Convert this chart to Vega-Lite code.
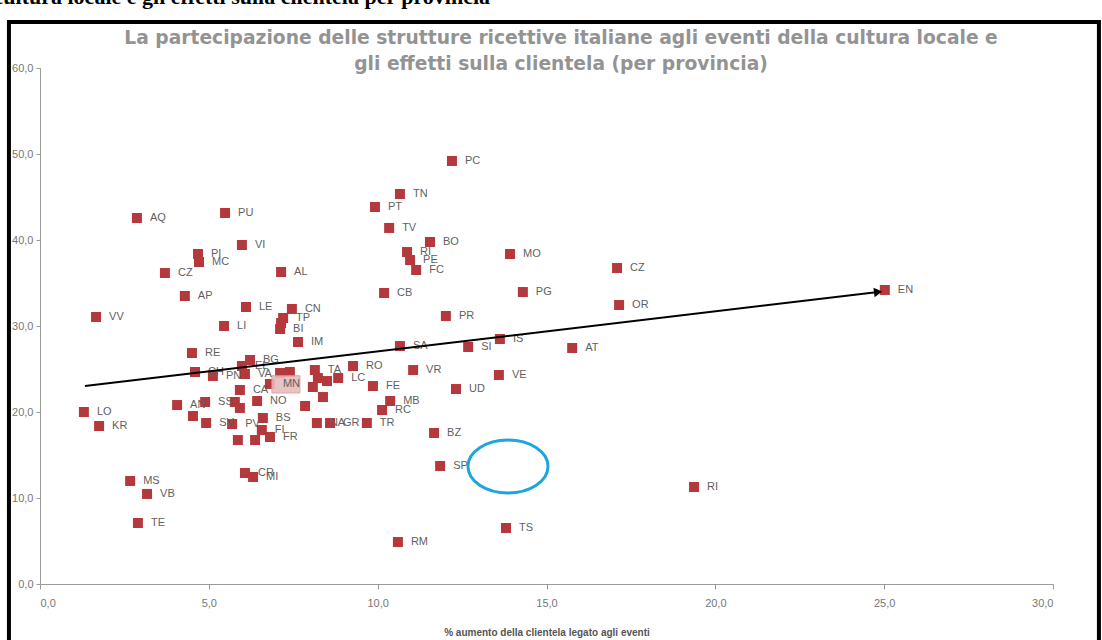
{
  "$schema": "https://vega.github.io/schema/vega-lite/v6.json",
  "width": 1013,
  "height": 516,
  "autosize": "none",
  "padding": {"left": 40, "top": 68, "right": 49, "bottom": 56},
  "background": "white",
  "config": {"view": {"stroke": null}, "font": "Liberation Sans"},
  "datasets": {
    "province": [
      {"p": "PC", "x": 12.20, "y": 49.19}, {"p": "TN", "x": 10.66, "y": 45.35}, {"p": "PT", "x": 9.92, "y": 43.84},
      {"p": "AQ", "x": 2.87, "y": 42.56}, {"p": "PU", "x": 5.48, "y": 43.14}, {"p": "TV", "x": 10.34, "y": 41.40},
      {"p": "VI", "x": 5.98, "y": 39.42}, {"p": "BO", "x": 11.55, "y": 39.77}, {"p": "RI", "x": 10.87, "y": 38.60},
      {"p": "PE", "x": 10.96, "y": 37.67}, {"p": "FC", "x": 11.14, "y": 36.51}, {"p": "MO", "x": 13.92, "y": 38.37},
      {"p": "PI", "x": 4.68, "y": 38.37}, {"p": "MC", "x": 4.71, "y": 37.44}, {"p": "CZ", "x": 3.70, "y": 36.16},
      {"p": "AL", "x": 7.14, "y": 36.28}, {"p": "CZ", "x": 17.09, "y": 36.74}, {"p": "CB", "x": 10.19, "y": 33.84},
      {"p": "PG", "x": 14.30, "y": 33.95}, {"p": "AP", "x": 4.29, "y": 33.49}, {"p": "OR", "x": 17.15, "y": 32.44},
      {"p": "EN", "x": 25.02, "y": 34.19}, {"p": "LE", "x": 6.10, "y": 32.21}, {"p": "CN", "x": 7.46, "y": 31.98},
      {"p": "VV", "x": 1.66, "y": 31.05}, {"p": "PR", "x": 12.02, "y": 31.16}, {"p": "LI", "x": 5.45, "y": 30.00},
      {"p": "TP", "x": 7.20, "y": 30.93}, {"p": "", "x": 7.14, "y": 30.35}, {"p": "BI", "x": 7.11, "y": 29.65},
      {"p": "IS", "x": 13.62, "y": 28.49}, {"p": "IM", "x": 7.64, "y": 28.14}, {"p": "SA", "x": 10.66, "y": 27.67},
      {"p": "SI", "x": 12.68, "y": 27.56}, {"p": "AT", "x": 15.76, "y": 27.44}, {"p": "RE", "x": 4.50, "y": 26.86},
      {"p": "BG", "x": 6.22, "y": 26.05}, {"p": "EL", "x": 5.98, "y": 25.35}, {"p": "TA", "x": 8.14, "y": 24.88},
      {"p": "RO", "x": 9.27, "y": 25.35}, {"p": "VR", "x": 11.05, "y": 24.88}, {"p": "VE", "x": 13.59, "y": 24.30},
      {"p": "CH", "x": 4.59, "y": 24.65}, {"p": "PN", "x": 5.12, "y": 24.19}, {"p": "VA", "x": 6.07, "y": 24.42},
      {"p": "MN", "x": 6.81, "y": 23.26}, {"p": "CA", "x": 5.92, "y": 22.56}, {"p": "", "x": 7.11, "y": 24.53},
      {"p": "", "x": 7.40, "y": 24.65}, {"p": "", "x": 8.23, "y": 23.95}, {"p": "", "x": 8.50, "y": 23.60},
      {"p": "LC", "x": 8.83, "y": 23.95}, {"p": "", "x": 8.08, "y": 22.91}, {"p": "", "x": 8.38, "y": 21.74},
      {"p": "FE", "x": 9.86, "y": 23.02}, {"p": "UD", "x": 12.32, "y": 22.67}, {"p": "NO", "x": 6.43, "y": 21.28},
      {"p": "", "x": 7.85, "y": 20.70}, {"p": "MB", "x": 10.37, "y": 21.28}, {"p": "RC", "x": 10.13, "y": 20.23},
      {"p": "TR", "x": 9.68, "y": 18.72}, {"p": "GR", "x": 8.59, "y": 18.72}, {"p": "NA", "x": 8.20, "y": 18.72},
      {"p": "AN", "x": 4.06, "y": 20.81}, {"p": "SS", "x": 4.89, "y": 21.16}, {"p": "", "x": 4.53, "y": 19.53},
      {"p": "SV", "x": 4.92, "y": 18.72}, {"p": "", "x": 5.77, "y": 21.16}, {"p": "", "x": 5.92, "y": 20.47},
      {"p": "PV", "x": 5.69, "y": 18.60}, {"p": "BS", "x": 6.60, "y": 19.30}, {"p": "FI", "x": 6.57, "y": 17.91},
      {"p": "", "x": 6.37, "y": 16.74}, {"p": "", "x": 5.86, "y": 16.74}, {"p": "FR", "x": 6.81, "y": 17.09},
      {"p": "CR", "x": 6.07, "y": 12.91}, {"p": "MI", "x": 6.31, "y": 12.44}, {"p": "BZ", "x": 11.67, "y": 17.56},
      {"p": "SP", "x": 11.85, "y": 13.72}, {"p": "RM", "x": 10.60, "y": 4.88}, {"p": "TS", "x": 13.80, "y": 6.51},
      {"p": "RI", "x": 19.37, "y": 11.28}, {"p": "LO", "x": 1.30, "y": 20.00}, {"p": "KR", "x": 1.75, "y": 18.37},
      {"p": "MS", "x": 2.67, "y": 11.98}, {"p": "VB", "x": 3.17, "y": 10.47}, {"p": "TE", "x": 2.90, "y": 7.09}
    ],
    "tendenza": [{"x": 1.33, "y": 23.02}, {"x": 24.82, "y": 33.95}]
  },
  "layer": [
    {
      "data": {"values": [{}]},
      "mark": {"type": "rect", "filled": false, "stroke": "black", "strokeWidth": 4, "clip": false},
      "encoding": {
        "x": {"datum": -0.92, "type": "quantitative", "scale": {"domain": [0, 30], "nice": false, "zero": false}},
        "x2": {"datum": 31.36},
        "y": {"datum": -8, "type": "quantitative", "scale": {"domain": [0, 60], "nice": false, "zero": false}},
        "y2": {"datum": 65.35}
      }
    },
    {
      "data": {"name": "province"},
      "mark": {"type": "point", "shape": "square", "filled": true, "size": 100, "color": "#b5383c", "opacity": 1},
      "encoding": {
        "x": {
          "field": "x", "type": "quantitative",
          "scale": {"domain": [0, 30], "nice": false, "zero": false},
          "axis": {
            "values": [0, 5, 10, 15, 20, 25, 30], "grid": false,
            "labelExpr": "replace(format(datum.value, '.1f'), '.', ',')",
            "title": "% aumento della clientela legato agli eventi",
            "titleFontSize": 10, "titleFontWeight": "bold", "titleColor": "#555555", "titlePadding": 19,
            "labelFontSize": 11, "labelColor": "#777777", "labelPadding": 8,
            "domainColor": "#9a9a9a", "tickColor": "#9a9a9a", "tickSize": 5
          }
        },
        "y": {
          "field": "y", "type": "quantitative",
          "scale": {"domain": [0, 60], "nice": false, "zero": false},
          "axis": {
            "values": [0, 10, 20, 30, 40, 50, 60], "grid": false, "title": null,
            "labelExpr": "replace(format(datum.value, '.1f'), '.', ',')",
            "labelFontSize": 11, "labelColor": "#777777", "labelPadding": 3,
            "domainColor": "#9a9a9a", "tickColor": "#9a9a9a", "tickSize": 4
          }
        }
      }
    },
    {
      "data": {"name": "province"},
      "transform": [{"filter": "datum.p == 'MN'"}],
      "mark": {"type": "point", "shape": "M0.13,-0.55 H2.0 V0.6 H0.13 Z", "size": 900, "filled": true, "fill": "#e7bcbc", "stroke": "#d79d9d", "strokeWidth": 1, "opacity": 0.9},
      "encoding": {
        "x": {"field": "x", "type": "quantitative"},
        "y": {"field": "y", "type": "quantitative"}
      }
    },
    {
      "data": {"name": "province"},
      "mark": {"type": "text", "align": "left", "baseline": "middle", "dx": 13, "fontSize": 11, "color": "#5f5f5f"},
      "encoding": {
        "x": {"field": "x", "type": "quantitative"},
        "y": {"field": "y", "type": "quantitative"},
        "text": {"field": "p"}
      }
    },
    {
      "data": {"name": "tendenza"},
      "mark": {"type": "line", "color": "black", "strokeWidth": 2},
      "encoding": {
        "x": {"field": "x", "type": "quantitative"},
        "y": {"field": "y", "type": "quantitative"}
      }
    },
    {
      "data": {"name": "tendenza"},
      "transform": [{"filter": "datum.x > 20"}],
      "mark": {"type": "point", "shape": "triangle-right", "filled": true, "size": 90, "color": "black", "angle": -6.8, "opacity": 1},
      "encoding": {
        "x": {"field": "x", "type": "quantitative"},
        "y": {"field": "y", "type": "quantitative"}
      }
    },
    {
      "data": {"values": [{}]},
      "mark": {"type": "point", "shape": "M-1,0 A1,0.66 0 1,0 1,0 A1,0.66 0 1,0 -1,0 Z", "size": 6400, "filled": false, "stroke": "#1ba6df", "strokeWidth": 3, "opacity": 1},
      "encoding": {
        "x": {"datum": 13.86, "type": "quantitative"},
        "y": {"datum": 13.66, "type": "quantitative"}
      }
    },
    {
      "data": {"values": [{}]},
      "mark": {"type": "text", "align": "center", "baseline": "middle", "font": "DejaVu Sans", "fontWeight": "bold", "fontSize": 18.7, "color": "#939393", "lineHeight": 26, "clip": false},
      "encoding": {
        "x": {"datum": 15.43, "type": "quantitative"},
        "y": {"datum": 63.5, "type": "quantitative"},
        "text": {"value": ["La partecipazione delle strutture ricettive italiane agli eventi della cultura locale e", "gli effetti sulla clientela (per provincia)"]}
      }
    },
    {
      "data": {"values": [{}]},
      "mark": {"type": "text", "align": "right", "baseline": "alphabetic", "font": "Liberation Serif", "fontWeight": "bold", "fontSize": 22, "color": "black", "clip": false},
      "encoding": {
        "x": {"datum": 13.33, "type": "quantitative"},
        "y": {"datum": 67.4, "type": "quantitative"},
        "text": {"value": "cultura locale e gli effetti sulla clientela per provincia"}
      }
    }
  ]
}
